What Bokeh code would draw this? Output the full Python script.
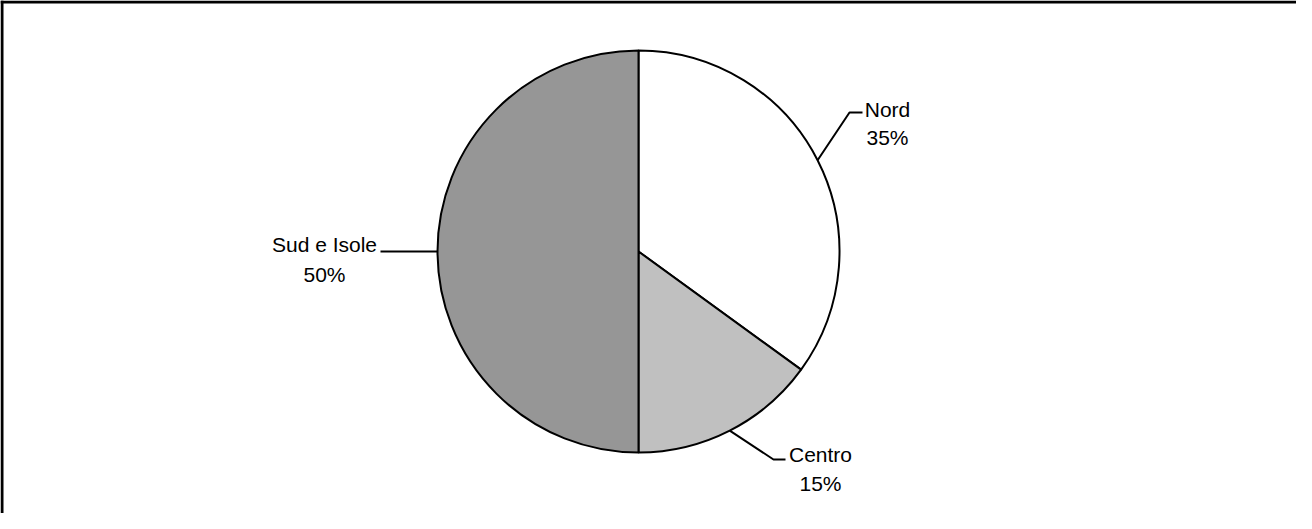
import math
from bokeh.plotting import figure
from bokeh.models import Range1d, Span, ColumnDataSource
from bokeh.core.properties import value
from bokeh.embed import file_html
from bokeh.resources import INLINE

# ---- data ----
categories = ["Nord", "Centro", "Sud e Isole"]
shares = [35, 15, 50]
pct_labels = ["35%", "15%", "50%"]
colors = ["#ffffff", "#c0c0c0", "#969696"]

# ---- layout (pixel-like data space) ----
W, H = 1296, 513
CX, CY, R = 638, 262, 201
# label anchors: (name x, name baseline y, pct baseline y, elbow x, elbow y, end x)
label_layout = {
    "Nord": (887, 404, 376, 849, 401, 862),
    "Centro": (820, 59, 30, 773, 54, 785),
    "Sud e Isole": (324, 269, 239, 380, 262, 380),
}

p = figure(width=W, height=H, output_backend="svg", toolbar_location=None,
           x_range=Range1d(0, W), y_range=Range1d(0, H), min_border=0)
p.axis.visible = False
p.grid.visible = False
p.outline_line_color = None
p.background_fill_color = "white"
p.border_fill_color = "white"

total = sum(shares)
starts, ends, mids = [], [], []
cum = 0.0
for s in shares:
    a0 = math.pi / 2 - 2 * math.pi * cum / total
    a1 = math.pi / 2 - 2 * math.pi * (cum + s) / total
    starts.append(a0)
    ends.append(a1)
    mids.append((a0 + a1) / 2)
    cum += s

src = ColumnDataSource(dict(cat=categories, start=starts, end=ends, color=colors))
p.wedge(x=CX, y=CY, radius=R, start_angle="start", end_angle="end", direction="clock",
        fill_color="color", line_color="black", line_width=2, source=src)

name_x, name_y, pct_y = [], [], []
for cat, m in zip(categories, mids):
    nx, ny, py, ex, ey, endx = label_layout[cat]
    sx = CX + R * math.cos(m)
    sy = CY + R * math.sin(m)
    p.line([sx, ex, endx], [sy, ey, ey], line_color="black", line_width=2)
    name_x.append(nx); name_y.append(ny); pct_y.append(py)

p.text(x=name_x, y=name_y, text=categories, text_align="center", text_baseline="alphabetic",
       text_font=value("Liberation Sans"), text_font_size="21px", text_color="black")
p.text(x=name_x, y=pct_y, text=pct_labels, text_align="center", text_baseline="alphabetic",
       text_font=value("Liberation Sans"), text_font_size="21px", text_color="black")

# frame edges visible in the reference (top and left)
p.add_layout(Span(location=H - 1.5, dimension="width", line_color="black", line_width=3))
p.add_layout(Span(location=1.5, dimension="height", line_color="black", line_width=3))

open("out.html", "w").write(file_html(p, INLINE))
